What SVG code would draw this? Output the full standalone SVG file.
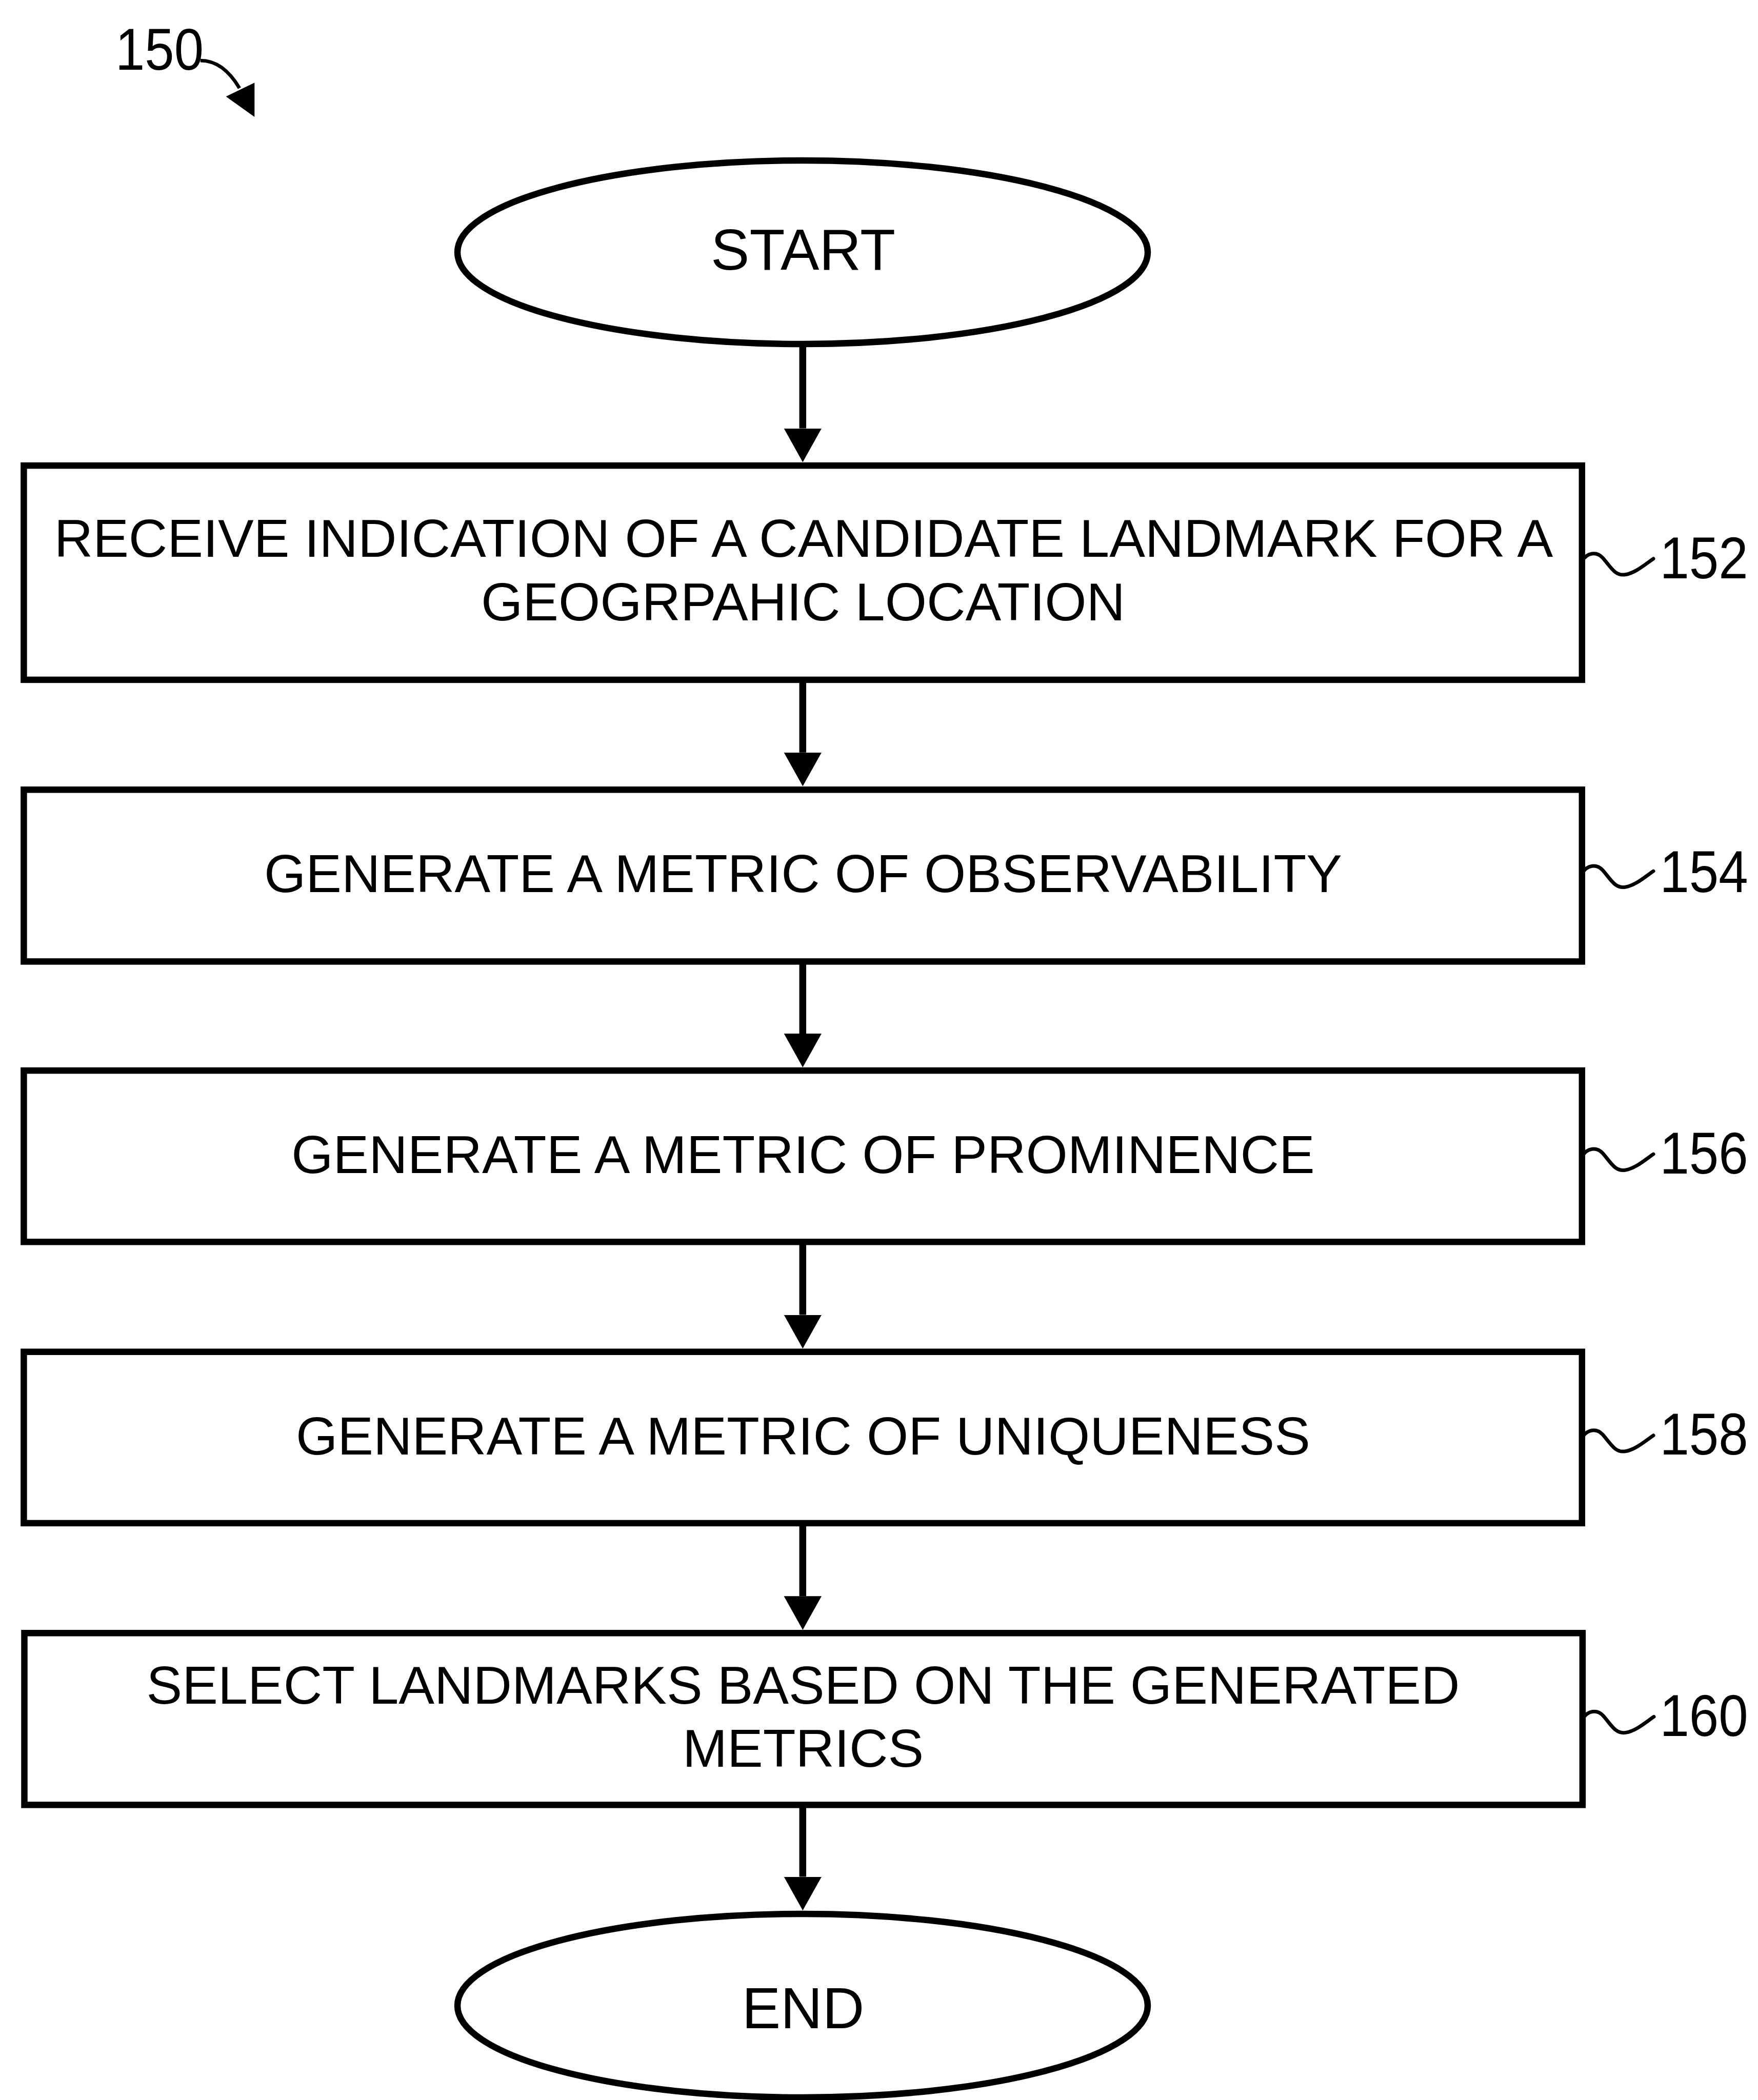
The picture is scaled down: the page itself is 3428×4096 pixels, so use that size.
<svg xmlns="http://www.w3.org/2000/svg" width="3428" height="4096" viewBox="0 0 3428 4096">
  <style>
    .shape { fill: #ffffff; stroke: #000000; stroke-width: 12.5; }
    .txt { font-family: "Liberation Sans", Arial, Helvetica, sans-serif; fill: #000000; }
    .step { font-size: 104.5px; text-anchor: middle; }
    .term { font-size: 113px; text-anchor: middle; }
    .ref { font-size: 115.6px; }
    .flow { stroke: #000000; stroke-width: 13.5; fill: none; marker-end: url(#head); }
    .squiggle { stroke: #000000; stroke-width: 7; fill: none; stroke-linecap: round; }
  </style>
  <defs>
    <marker id="head" markerUnits="userSpaceOnUse" markerWidth="70" markerHeight="80" viewBox="0 -40 70 80" refX="0" refY="0" orient="auto">
      <path d="M0,-36.7 L65.8,0 L0,36.7 Z" fill="#000000"/>
    </marker>
    <path id="tilde" d="M0,0 C10,-16 28,-19 40,-6 C56,12 64,30 84,27 C104,24 124,6 139,-4"/>
  </defs>

  <rect width="3428" height="4096" fill="#ffffff"/>

  <!-- figure number with its pointer -->
  <g id="fig-label">
    <text class="txt ref" x="225" y="136" textLength="172" lengthAdjust="spacingAndGlyphs">150</text>
    <path d="M390.8,118.2 C420,118 445,135 467,172" stroke="#000000" stroke-width="6.8" fill="none"/>
    <polygon points="440.6,188.2 496.3,161.2 496.3,227.9" fill="#000000"/>
  </g>

  <!-- connectors -->
  <g id="connectors">
    <line class="flow" x1="1565.3" y1="672" x2="1565.3" y2="835.6"/>
    <line class="flow" x1="1565.3" y1="1326" x2="1565.3" y2="1467.7"/>
    <line class="flow" x1="1565.3" y1="1875.4" x2="1565.3" y2="2015.9"/>
    <line class="flow" x1="1565.3" y1="2422.3" x2="1565.3" y2="2564.5"/>
    <line class="flow" x1="1565.3" y1="2970.9" x2="1565.3" y2="3113.2"/>
    <line class="flow" x1="1565.3" y1="3520.3" x2="1565.3" y2="3660.5"/>
  </g>

  <!-- terminals and process steps -->
  <g id="start">
    <ellipse class="shape" cx="1565" cy="492" rx="673" ry="179"/>
    <text class="txt term" x="1566" y="526">START</text>
  </g>

  <g id="step-152">
    <rect class="shape" x="46.4" y="908.1" width="3038.4" height="417.8"/>
    <text class="txt step" x="1567" y="1086">RECEIVE INDICATION OF A CANDIDATE LANDMARK FOR A</text>
    <text class="txt step" x="1566" y="1209.5">GEOGRPAHIC LOCATION</text>
    <use href="#tilde" class="squiggle" x="3085" y="1093.8"/>
    <text class="txt ref" x="3236.4" y="1127.6" textLength="172.4" lengthAdjust="spacingAndGlyphs">152</text>
  </g>

  <g id="step-154">
    <rect class="shape" x="46.4" y="1540.3" width="3038.4" height="335.1"/>
    <text class="txt step" x="1566" y="1740.3">GENERATE A METRIC OF OBSERVABILITY</text>
    <use href="#tilde" class="squiggle" x="3085" y="1703.2"/>
    <text class="txt ref" x="3236.4" y="1740.3" textLength="172.4" lengthAdjust="spacingAndGlyphs">154</text>
  </g>

  <g id="step-156">
    <rect class="shape" x="46.4" y="2088.1" width="3038.4" height="334.2"/>
    <text class="txt step" x="1566" y="2288">GENERATE A METRIC OF PROMINENCE</text>
    <use href="#tilde" class="squiggle" x="3085" y="2255.2"/>
    <text class="txt ref" x="3236.4" y="2289" textLength="172.4" lengthAdjust="spacingAndGlyphs">156</text>
  </g>

  <g id="step-158">
    <rect class="shape" x="46.4" y="2636.7" width="3038.4" height="334.2"/>
    <text class="txt step" x="1566" y="2836.7">GENERATE A METRIC OF UNIQUENESS</text>
    <use href="#tilde" class="squiggle" x="3085" y="2803.8"/>
    <text class="txt ref" x="3236.4" y="2836.7" textLength="172.4" lengthAdjust="spacingAndGlyphs">158</text>
  </g>

  <g id="step-160">
    <rect class="shape" x="47.5" y="3185.3" width="3038.4" height="335.1"/>
    <text class="txt step" x="1566" y="3322.8">SELECT LANDMARKS BASED ON THE GENERATED</text>
    <text class="txt step" x="1566" y="3446">METRICS</text>
    <use href="#tilde" class="squiggle" x="3086" y="3352.4"/>
    <text class="txt ref" x="3236.4" y="3386.1" textLength="172.4" lengthAdjust="spacingAndGlyphs">160</text>
  </g>

  <g id="end">
    <ellipse class="shape" cx="1565" cy="3912" rx="673" ry="179"/>
    <text class="txt term" x="1566" y="3956">END</text>
  </g>
</svg>
